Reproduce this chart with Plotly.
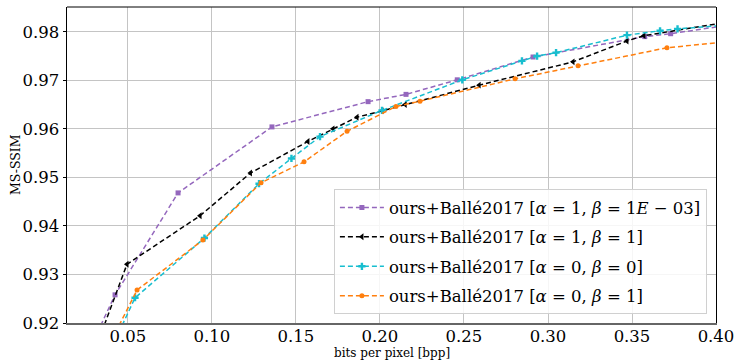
import plotly.graph_objects as go

# bits per pixel / MS-SSIM values
x_a1_b1e3 = [0.0277, 0.0423, 0.0798, 0.1357, 0.1929, 0.2155, 0.2460, 0.2911, 0.3576, 0.3730, 0.4200]
y_a1_b1e3 = [0.9150, 0.9258, 0.9468, 0.9604, 0.9656, 0.9671, 0.9701, 0.9748, 0.9790, 0.9796, 0.9820]

x_a1_b1 = [0.0310, 0.0494, 0.0929, 0.1229, 0.1571, 0.1720, 0.1863, 0.2012, 0.2150, 0.2590, 0.3149, 0.3470, 0.3571, 0.4200]
y_a1_b1 = [0.9150, 0.9321, 0.9421, 0.9509, 0.9574, 0.9600, 0.9624, 0.9637, 0.9650, 0.9690, 0.9738, 0.9781, 0.9792, 0.9827]

x_a0_b0 = [0.0445, 0.0542, 0.0955, 0.1280, 0.1473, 0.1643, 0.2012, 0.2490, 0.2845, 0.2935, 0.3048, 0.3470, 0.3667, 0.3771, 0.4200]
y_a0_b0 = [0.9180, 0.9252, 0.9375, 0.9487, 0.9539, 0.9584, 0.9638, 0.9701, 0.9740, 0.9750, 0.9757, 0.9793, 0.9802, 0.9806, 0.9817]

x_a0_b1 = [0.0425, 0.0554, 0.0946, 0.1292, 0.1548, 0.1804, 0.2095, 0.2238, 0.2804, 0.3179, 0.3708, 0.4200]
y_a0_b1 = [0.9180, 0.9268, 0.9371, 0.9489, 0.9532, 0.9595, 0.9646, 0.9657, 0.9703, 0.9730, 0.9767, 0.9784]

names = [
    "ours+Ballé2017 [<i>α</i> = 1, <i>β</i> = 1<i>E</i> − 03]",
    "ours+Ballé2017 [<i>α</i> = 1, <i>β</i> = 1]",
    "ours+Ballé2017 [<i>α</i> = 0, <i>β</i> = 0]",
    "ours+Ballé2017 [<i>α</i> = 0, <i>β</i> = 1]",
]

x_ticks = [0.05, 0.10, 0.15, 0.20, 0.25, 0.30, 0.35, 0.40]
y_ticks = [0.92, 0.93, 0.94, 0.95, 0.96, 0.97, 0.98]

series = [
    (x_a1_b1e3, y_a1_b1e3, "#9467bd", "square", 5),
    (x_a1_b1, y_a1_b1, "#000000", "triangle-left", 6),
    (x_a0_b0, y_a0_b0, "#17becf", "cross", 6),
    (x_a0_b1, y_a0_b1, "#ff7f0e", "circle", 5),
]

fig = go.Figure()
for i, ((xs, ys, col, sym, sz), nm) in enumerate(zip(series, names)):
    fig.add_trace(go.Scatter(
        x=xs, y=ys, name=nm, mode="lines+markers", legendgroup=f"g{i}",
        line=dict(color=col, width=1.5, dash="5px,3px"),
        marker=dict(color=col, symbol=sym, size=sz),
        cliponaxis=True,
    ))

font_family = "DejaVu Serif"
fig.update_layout(
    width=737, height=360,
    margin=dict(l=67, r=21, t=7, b=37),
    paper_bgcolor="white", plot_bgcolor="white",
    font=dict(family=font_family, color="black", size=16),
    showlegend=True,
    legend=dict(
        x=0.986, y=0.028, xanchor="right", yanchor="bottom",
        bgcolor="rgba(255,255,255,0.85)", bordercolor="#d0d0d0", borderwidth=1,
        font=dict(family=font_family, size=16.5, color="black"),
        itemwidth=44, tracegroupgap=5,
    ),
    xaxis=dict(
        range=[0.0137, 0.40], tickvals=x_ticks, ticktext=[f"{v:.2f}" for v in x_ticks],
        showgrid=True, gridcolor="#c4c4c4", gridwidth=1,
        showline=True, linecolor="#666666", linewidth=2, mirror=False,
        ticks="", tickfont=dict(size=16.5), automargin=False,
        ticklabelstandoff=-3,
        zeroline=False,
    ),
    yaxis=dict(
        range=[0.92, 0.9851], tickvals=y_ticks, ticktext=[f"{v:.2f}" for v in y_ticks],
        showgrid=True, gridcolor="#c4c4c4", gridwidth=1,
        showline=True, linecolor="black", linewidth=1, mirror=True,
        ticks="outside", ticklen=3.5, tickcolor="black",
        tickfont=dict(size=16.5), automargin=False,
        zeroline=False,
    ),
    shapes=[dict(type="line", xref="paper", yref="paper", x0=0, x1=1, y0=1, y1=1,
                 line=dict(color="black", width=1))],
    annotations=[
        dict(text="bits per pixel [bpp]", xref="paper", yref="paper", x=0.5, y=-0.094,
             xanchor="center", yanchor="middle", showarrow=False,
             font=dict(family=font_family, size=12, color="black")),
        dict(text="MS-SSIM", xref="paper", yref="paper", x=-0.080, y=0.5,
             xanchor="center", yanchor="middle", showarrow=False, textangle=-90,
             font=dict(family=font_family, size=12.5, color="black")),
    ],
)

fig.write_html("out.html", config={"displayModeBar": False},
               post_script="document.body.style.margin='0';document.body.style.overflow='hidden';")
